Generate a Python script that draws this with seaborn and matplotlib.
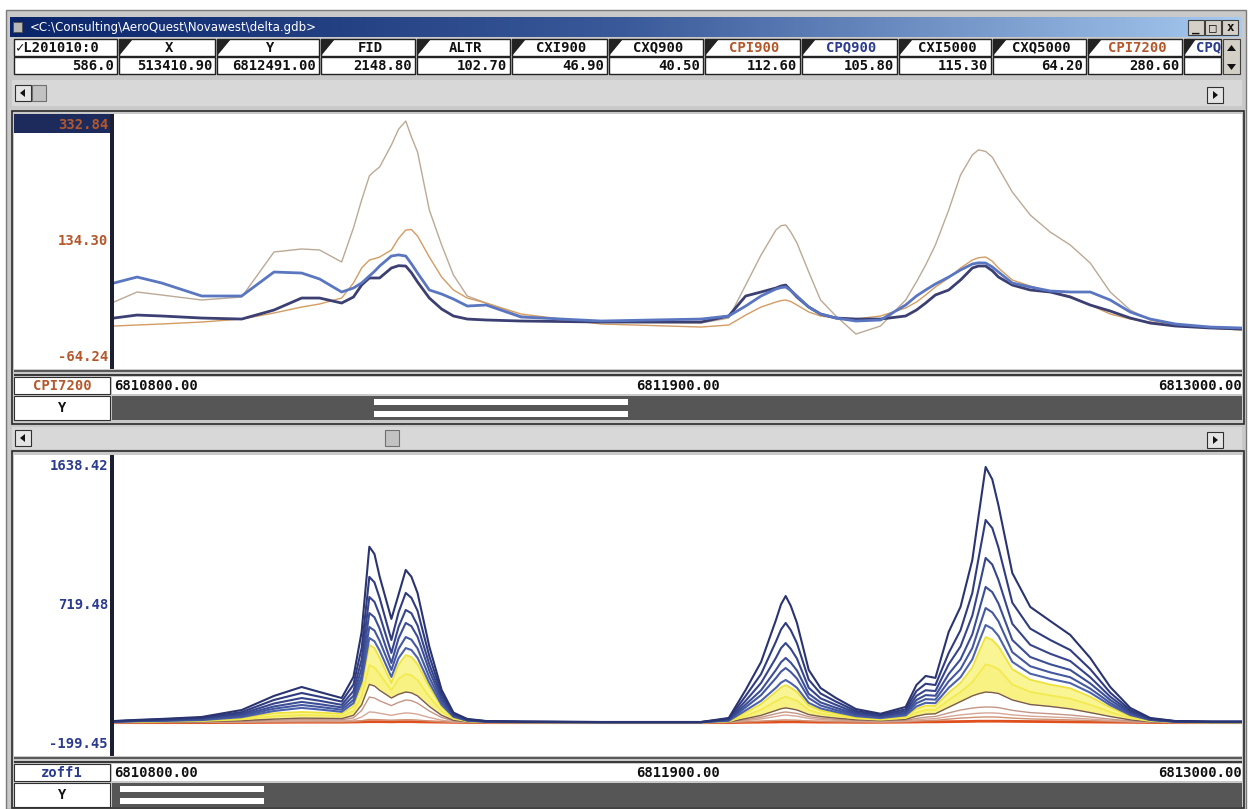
import matplotlib
matplotlib.use("Agg")
import matplotlib.pyplot as plt
from matplotlib.patches import Rectangle, Polygon
from matplotlib.colors import LinearSegmentedColormap
import numpy as np
import seaborn as sns

sns.set_theme(style="white")
plt.rcParams['font.family'] = ['DejaVu Sans Mono', 'DejaVu Sans']

# --- data -----------------------------------------------------------------
# northing (Y channel) of the samples along the line
northing = [6810800, 6810845, 6810893, 6810971, 6811049, 6811112, 6811166, 6811201, 6811244, 6811267,
            6811283, 6811298, 6811308, 6811318, 6811341, 6811355, 6811369, 6811380, 6811392, 6811415,
            6811439, 6811462, 6811489, 6811526, 6811594, 6811750, 6811945, 6811999, 6812032, 6812062,
            6812091, 6812101, 6812110, 6812120, 6812132, 6812155, 6812178, 6812208, 6812247, 6812295,
            6812344, 6812365, 6812383, 6812402, 6812428, 6812451, 6812474, 6812486, 6812500, 6812513,
            6812525, 6812552, 6812587, 6812626, 6812665, 6812704, 6812743, 6812782, 6812821, 6812870,
            6812938, 6813000]

# upper profile window
cpi7200 = [39.7, 55.5, 50.8, 42.9, 47.6, 118.5, 123.3, 121.7, 102.8, 156.4,
           200.5, 238.3, 246.0, 252.4, 287.1, 312.0, 324.9, 300.0, 276.1, 184.7,
           129.6, 82.3, 49.2, 38.1, 17.7, 8.2, 6.6, 14.5, 66.5, 113.8,
           153.2, 160.0, 161.1, 150.0, 132.7, 87.0, 42.9, 17.7, -10.7, 1.9,
           42.9, 71.3, 98.0, 129.6, 184.7, 239.8, 271.4, 279.5, 277.0, 268.0,
           250.9, 213.1, 176.8, 150.0, 129.6, 101.2, 55.5, 27.1, 11.4, 3.5,
           -1.2, -4.4]
cpi900 = [1.9, 3.5, 5.1, 8.2, 12.9, 22.4, 31.8, 36.6, 46.0, 69.7,
          93.3, 105.9, 108.0, 110.6, 121.7, 140.0, 153.2, 154.0, 143.7, 110.6,
          79.1, 58.7, 46.0, 38.1, 20.8, 5.1, 0.3, 3.5, 19.2, 31.8,
          39.7, 42.0, 42.9, 40.5, 35.0, 24.0, 17.7, 14.5, 12.9, 17.7,
          30.3, 39.7, 50.8, 63.4, 77.6, 93.3, 105.9, 109.5, 110.6, 104.0,
          93.3, 74.4, 64.9, 55.5, 49.2, 35.0, 20.8, 12.9, 8.2, 3.5,
          -1.2, -4.4]
cpq900 = [69.7, 79.1, 69.7, 49.2, 49.2, 87.0, 85.4, 76.0, 55.5, 61.8,
          69.7, 80.7, 88.0, 96.4, 112.2, 114.0, 112.2, 100.0, 85.4, 58.7,
          52.3, 44.4, 33.4, 35.0, 16.1, 9.8, 12.9, 17.7, 33.4, 49.2,
          60.2, 62.5, 63.4, 58.0, 49.2, 31.8, 20.8, 14.5, 9.8, 11.4,
          35.0, 49.2, 58.7, 68.1, 79.1, 90.2, 99.6, 101.5, 101.2, 95.0,
          87.0, 69.7, 63.4, 57.1, 55.5, 55.5, 42.9, 24.0, 12.9, 5.1,
          0.3, -1.2]
cpq7200 = [14.5, 19.2, 17.7, 14.5, 12.9, 27.1, 46.0, 46.0, 38.1, 47.6,
           66.5, 77.6, 77.6, 77.6, 93.3, 97.0, 96.4, 86.0, 71.3, 46.0,
           28.7, 17.7, 12.9, 11.4, 9.8, 8.2, 8.2, 17.7, 49.2, 55.5,
           61.8, 65.0, 66.5, 58.0, 47.6, 31.8, 20.8, 14.5, 12.9, 12.9,
           17.7, 27.1, 38.1, 50.8, 58.7, 74.4, 93.3, 96.5, 96.4, 89.0,
           79.1, 66.5, 58.7, 55.5, 47.6, 35.0, 25.5, 14.5, 6.6, 1.9,
           -1.2, -2.8]

# lower profile window: zoff decay channels, early (large) to late (small)
zoff1 = [10, 17, 23, 35, 78, 165, 220, 189, 152, 282, 560, 1085, 1040, 902, 640, 790, 942, 900, 800, 469,
         202, 62, 23, 10, 7, 4, 4, 29, 202, 374, 633, 730, 781, 720, 615, 325, 214, 152, 84, 55,
         97, 232, 288, 276, 560, 714, 1003, 1270, 1577, 1500, 1340, 923, 714, 627, 541, 399, 220, 91, 29, 10,
         7, 7]
zoff2 = [9, 15, 20, 30, 65, 140, 183, 160, 130, 235, 460, 899, 865, 770, 510, 680, 800, 770, 690, 410,
         180, 55, 20, 9, 6, 4, 4, 25, 165, 300, 500, 575, 615, 570, 490, 265, 180, 130, 72, 48,
         82, 195, 240, 232, 430, 570, 800, 1010, 1250, 1200, 1080, 740, 580, 510, 448, 330, 185, 78, 25, 9,
         6, 6]
zoff3 = [8, 13, 18, 26, 55, 118, 152, 135, 110, 195, 390, 775, 745, 665, 430, 590, 695, 675, 600, 360,
         160, 50, 18, 8, 5, 3, 3, 21, 135, 245, 400, 460, 491, 455, 395, 215, 150, 110, 62, 42,
         70, 165, 200, 195, 360, 470, 660, 820, 1016, 975, 880, 610, 480, 425, 380, 280, 160, 68, 22, 8,
         5, 5]
zoff4 = [7, 11, 15, 22, 47, 100, 128, 114, 94, 165, 335, 676, 650, 580, 368, 520, 615, 595, 530, 320,
         142, 45, 16, 7, 5, 3, 3, 18, 112, 200, 325, 373, 399, 370, 322, 178, 125, 92, 54, 37,
         60, 140, 170, 166, 300, 390, 545, 680, 837, 805, 735, 510, 405, 360, 325, 242, 140, 60, 20, 7,
         4, 4]
zoff5 = [6, 10, 13, 19, 40, 86, 109, 97, 80, 140, 290, 590, 568, 505, 325, 455, 528, 512, 458, 280,
         125, 40, 14, 6, 4, 3, 3, 15, 95, 170, 275, 315, 337, 312, 272, 152, 106, 78, 47, 33,
         52, 120, 145, 142, 255, 330, 460, 575, 707, 680, 625, 435, 348, 310, 280, 210, 122, 53, 18, 6,
         4, 4]
zoff6 = [5, 9, 11, 16, 34, 72, 91, 81, 67, 120, 255, 522, 502, 445, 282, 398, 460, 448, 400, 245,
         110, 36, 12, 5, 3, 2, 2, 12, 76, 135, 215, 247, 263, 244, 215, 122, 88, 66, 40, 28,
         45, 100, 122, 120, 215, 280, 390, 490, 602, 580, 535, 375, 302, 270, 244, 185, 108, 47, 16, 5,
         3, 3]
zoff7 = [4, 7, 9, 13, 28, 58, 66, 62, 55, 100, 225, 479, 460, 400, 245, 358, 417, 405, 360, 220,
         98, 32, 10, 4, 3, 2, 2, 10, 62, 115, 190, 218, 232, 215, 190, 105, 75, 56, 34, 24,
         38, 85, 105, 103, 185, 245, 340, 430, 528, 510, 470, 330, 265, 235, 212, 160, 94, 40, 14, 4,
         2, 2]
zoff8 = [3, 5, 7, 10, 20, 40, 47, 45, 40, 72, 165, 355, 340, 300, 200, 270, 300, 292, 262, 160,
         72, 24, 8, 3, 2, 1, 1, 7, 42, 80, 132, 150, 160, 148, 135, 78, 56, 42, 26, 18,
         29, 62, 78, 79, 140, 188, 250, 300, 360, 348, 330, 235, 190, 168, 148, 110, 66, 28, 10, 3,
         1, 1]
zoff9 = [2, 3, 4, 6, 12, 22, 28, 27, 25, 45, 110, 236, 226, 200, 152, 175, 189, 184, 165, 100,
         45, 15, 5, 2, 1, 1, 1, 4, 25, 45, 75, 86, 91, 86, 78, 50, 38, 28, 18, 13,
         20, 40, 52, 55, 95, 130, 165, 178, 189, 186, 180, 140, 112, 100, 85, 62, 38, 17, 6, 2,
         1, 1]
zoff10 = [1, 2, 3, 4, 8, 15, 19, 18, 17, 30, 75, 158, 152, 135, 105, 125, 140, 136, 120, 72,
          32, 11, 4, 1, 1, 1, 1, 3, 18, 33, 55, 62, 66, 62, 57, 37, 28, 20, 13, 9,
          14, 26, 34, 38, 60, 78, 90, 94, 97, 96, 93, 76, 62, 55, 47, 35, 22, 10, 4, 1,
          1, 1]
zoff11 = [1, 1, 2, 3, 5, 9, 11, 11, 10, 16, 35, 66, 64, 58, 45, 54, 60, 58, 52, 32,
          15, 6, 2, 1, 1, 0, 0, 2, 12, 23, 38, 44, 47, 44, 40, 26, 19, 14, 9, 6,
          9, 17, 22, 25, 38, 48, 55, 58, 60, 60, 58, 48, 40, 35, 30, 22, 14, 7, 3, 1,
          0, 0]
zoff12 = [0, 1, 1, 1, 2, 4, 5, 5, 5, 7, 12, 20, 19, 18, 15, 17, 18, 18, 16, 10,
          5, 2, 1, 0, 0, 0, 0, 1, 5, 9, 14, 16, 17, 16, 15, 10, 8, 6, 4, 3,
          5, 9, 12, 14, 22, 28, 32, 34, 35, 35, 34, 28, 23, 20, 17, 13, 8, 4, 2, 0,
          0, 0]
zoff13 = [0, 0, 0, 0, 1, 2, 3, 3, 3, 4, 5, 6, 6, 6, 5, 6, 6, 6, 5, 4,
          3, 2, 1, 0, 0, 0, 0, 0, 2, 3, 4, 5, 5, 5, 5, 4, 3, 3, 2, 2,
          3, 4, 5, 5, 6, 7, 8, 9, 9, 9, 9, 8, 7, 6, 5, 4, 3, 2, 1, 0,
          0, 0]

# spreadsheet row above the profiles
hdr_names = ['\u2713L201010:0', 'X', 'Y', 'FID', 'ALTR', 'CXI900', 'CXQ900', 'CPI900',
             'CPQ900', 'CXI5000', 'CXQ5000', 'CPI7200', 'CPQ']
hdr_values = ['586.0', '513410.90', '6812491.00', '2148.80', '102.70', '46.90', '40.50',
              '112.60', '105.80', '115.30', '64.20', '280.60', '']
col_edges = [13, 118, 216, 320, 416, 511, 608, 704, 801, 898, 992, 1087, 1183, 1222]

x_range = (6810800.00, 6813000.00)
top_range = (-64.24, 332.84)
bot_range = (-199.45, 1638.42)
top_labels = ['332.84', '134.30', '-64.24']
bot_labels = ['1638.42', '719.48', '-199.45']

W, H = 1248, 809
BROWN = '#b4582c'
NAVY = '#2b3b8e'


def rect(x0, y0, x1, y1):
    return [x0 / W, 1 - y1 / H, (x1 - x0) / W, (y1 - y0) / H]


fig = plt.figure(figsize=(W / 100, H / 100), dpi=100)
fig.patch.set_facecolor('white')

# background axes in pixel units, used for the window chrome
bg = fig.add_axes([0, 0, 1, 1])
bg.set_xlim(0, W)
bg.set_ylim(H, 0)
bg.axis('off')


def box(x0, y0, x1, y1, fc, ec='none', lw=0.0, z=1):
    p = Rectangle((x0, y0), x1 - x0, y1 - y0, facecolor=fc, edgecolor=ec, linewidth=lw, zorder=z)
    bg.add_patch(p)
    return p


def txt(x, y, s, color='#111111', ha='center', size=10.5, weight='bold', **kw):
    return bg.text(x, y, s, color=color, ha=ha, va='center', fontsize=size,
                   fontweight=weight, zorder=5, **kw)


def tri(pts, color='#111111'):
    bg.add_patch(Polygon(pts, closed=True, facecolor=color, edgecolor='none', zorder=4))


# window frame
box(6, 10, 1246, 809, '#c9c9c9', ec='#7a7a7a', lw=1.0, z=0)

# title bar
cmap = LinearSegmentedColormap.from_list('tb', ['#0a246a', '#3a5a9a', '#a6caf0'])
bg.imshow(np.linspace(0, 1, 256)[None, :], cmap=cmap, aspect='auto',
          extent=(10, 1242, 37, 17), zorder=1)
box(13, 22, 22, 32, '#b8b8b8', ec='#505050', lw=0.6, z=2)
txt(30, 27, '<C:\\Consulting\\AeroQuest\\Novawest\\delta.gdb>', color='white', ha='left',
    size=8.5, weight='normal', family='DejaVu Sans')
for bx, sym in zip([1188, 1205, 1222], ['_', '\u25a1', 'x']):
    box(bx, 20, bx + 16, 35, '#d4d0c8', ec='#404040', lw=0.8, z=2)
    txt(bx + 8, 27.5, sym, size=9)

# spreadsheet header + value row
for i, (name, val) in enumerate(zip(hdr_names, hdr_values)):
    x0, x1 = col_edges[i], col_edges[i + 1]
    box(x0 + 1, 39, x1 - 1, 56, 'white', ec='#222222', lw=1.0, z=2)
    box(x0 + 1, 57, x1 - 1, 74, 'white', ec='#222222', lw=1.0, z=2)
    color = BROWN if name.startswith('CPI') else NAVY if name.startswith('CPQ') else '#111111'
    if i == 0:
        txt(x0 + 3, 47.5, name, ha='left', size=10)
    elif i == len(hdr_names) - 1:
        tri([(x0 + 1, 39), (x0 + 13, 39), (x0 + 1, 56)], '#222222')
        txt(x0 + 13, 47.5, name, color=color, ha='left', size=10)
    else:
        tri([(x0 + 1, 39), (x0 + 15, 39), (x0 + 1, 56)], '#222222')
        txt((x0 + x1) / 2 + 2, 47.5, name, color=color, size=10)
    if val:
        txt(x1 - 4, 65.5, val, ha='right', size=10)
# table scroll bar
box(1223, 39, 1240, 74, '#d4d0c8', ec='#404040', lw=0.8, z=2)
tri([(1227, 51), (1236, 51), (1231.5, 45)])
tri([(1227, 64), (1236, 64), (1231.5, 70)])


def hscroll(y0, y1, thumb_x):
    box(12, y0, 1242, y1, '#d8d8d8', z=1)
    ym = (y0 + y1) / 2
    box(15, ym - 8, 31, ym + 8, '#e4e4e4', ec='#303030', lw=0.8, z=2)
    tri([(25, ym - 4), (25, ym + 4), (20, ym)])
    box(thumb_x, ym - 8, thumb_x + 14, ym + 8, '#c2c2c2', ec='#707070', lw=0.8, z=2)
    box(1207, ym - 6, 1223, ym + 10, '#e4e4e4', ec='#303030', lw=0.8, z=2)
    tri([(1213, ym - 2), (1213, ym + 6), (1218, ym + 2)])


hscroll(80, 106, 32)
hscroll(427, 449, 385)


def panel(y_top, y_plot0, y_plot1, y_bottom, labels, label_color, chan, bar_x, highlight):
    box(12, y_top, 1244, y_bottom, '#c9c9c9', ec='#2a2a2a', lw=1.2, z=1)
    box(14, y_plot0 - 2, 110, y_plot1 + 1, 'white', z=2)
    box(114, y_plot0 - 2, 1242, y_plot1 + 1, 'white', z=2)
    box(110, y_plot0 - 2, 114, y_plot1 + 1, '#1c1f30', z=3)
    if highlight:
        box(14, y_plot0 - 2, 110, y_plot0 + 17, '#1c2a5c', z=3)
    ys = [y_plot0 + 9, (y_plot0 + y_plot1) / 2 - 1, y_plot1 - 11]
    for yy, lab in zip(ys, labels):
        txt(108, yy, lab, color=label_color, ha='right', size=10)
    # double rule under the plot
    box(14, y_plot1 + 2, 1242, y_plot1 + 4, '#5a5a5a', z=2)
    box(14, y_plot1 + 6, 1242, y_plot1 + 8, '#3a3a3a', z=2)
    yl = y_plot1 + 9
    box(14, yl, 110, yl + 17, 'white', ec='#303030', lw=0.8, z=2)
    box(112, yl, 1242, yl + 17, 'white', z=2)
    txt(62, yl + 9, chan, color=label_color, size=10)
    txt(114, yl + 9, '%.2f' % x_range[0], ha='left', size=10)
    txt(678, yl + 9, '%.2f' % ((x_range[0] + x_range[1]) / 2), size=10)
    txt(1242, yl + 9, '%.2f' % x_range[1], ha='right', size=10)
    yb = yl + 19
    box(14, yb, 110, yb + 24, 'white', ec='#303030', lw=0.8, z=2)
    txt(62, yb + 12, 'Y', size=10)
    box(112, yb, 1242, yb + 24, '#565656', z=2)
    box(bar_x[0], yb + 3, bar_x[1], yb + 9, 'white', z=3)
    box(bar_x[0], yb + 15, bar_x[1], yb + 21, 'white', z=3)


panel(111, 116, 368, 424, top_labels, BROWN, 'CPI7200', (374, 628), True)
panel(451, 457, 755, 808, bot_labels, NAVY, 'zoff1', (120, 264), False)

# --- profiles --------------------------------------------------------------
line_kw = dict(errorbar=None, legend=False, solid_joinstyle='round')

top_ax = fig.add_axes(rect(114, 116, 1242, 368))
top_ax.set_xlim(*x_range)
top_ax.set_ylim(*top_range)
top_ax.set_axis_off()

for vals, col, lw in [(cpi7200, '#bba995', 1.0), (cpi900, '#d39c62', 1.0),
                      (cpq7200, '#3b3f72', 2.0), (cpq900, '#5a76c0', 2.0)]:
    sns.lineplot(x=northing, y=vals, ax=top_ax, color=col, linewidth=lw, **line_kw)

bot_ax = fig.add_axes(rect(114, 457, 1242, 755))
bot_ax.set_xlim(*x_range)
bot_ax.set_ylim(*bot_range)
bot_ax.set_axis_off()

# the late-time yellow channels form a dense band
bot_ax.fill_between(northing, zoff9, zoff7, color='#faf594', linewidth=0)
bot_ax.fill_between(northing, zoff9, zoff8, color='#f8f078', linewidth=0, alpha=0.6)
sns.lineplot(x=northing, y=zoff13, ax=bot_ax, color='#e0501e', linewidth=2.0, **line_kw)
for vals, col in [(zoff12, '#cf9070'), (zoff11, '#d6a696'), (zoff10, '#c49686'), (zoff9, '#7c5c52')]:
    sns.lineplot(x=northing, y=vals, ax=bot_ax, color=col, linewidth=1.0, **line_kw)
for vals, col in [(zoff8, '#f2ea50'), (zoff7, '#eee23c')]:
    sns.lineplot(x=northing, y=vals, ax=bot_ax, color=col, linewidth=1.3, **line_kw)
blues = ['#4c62aa', '#4458a0', '#3c4e96', '#36458c', '#303c80', '#2a3470']
for vals, col in zip([zoff6, zoff5, zoff4, zoff3, zoff2, zoff1], blues):
    sns.lineplot(x=northing, y=vals, ax=bot_ax, color=col, linewidth=1.5, **line_kw)

fig.savefig('out.png', dpi=100, facecolor=fig.get_facecolor())
